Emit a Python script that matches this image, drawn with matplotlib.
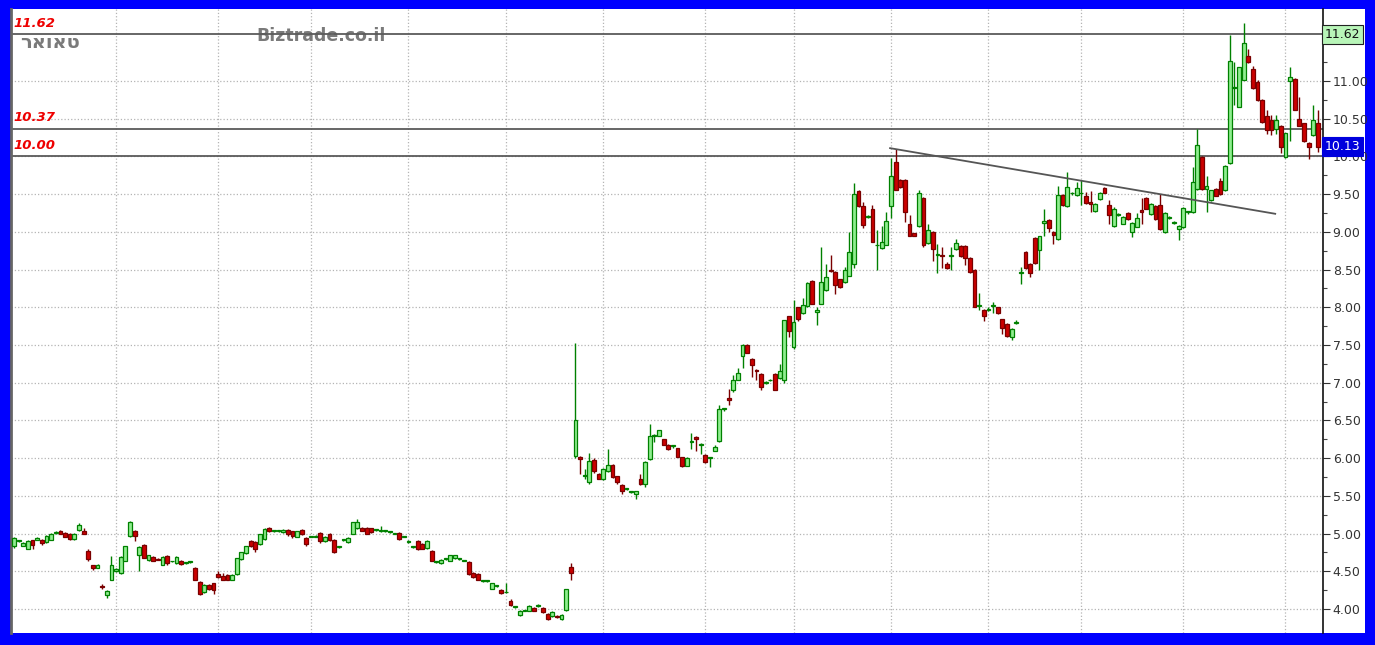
import matplotlib
matplotlib.use('Agg')
import matplotlib.pyplot as plt
import matplotlib.transforms as mtransforms
from matplotlib.patches import Rectangle

# daily OHLC (one value per trading day)
opens = [
    4.83, 4.90, 4.84, 4.80, 4.91, 4.92, 4.91, 4.89, 4.92, 5.01,
    5.04, 5.01, 5.00, 4.93, 5.05, 5.04, 4.77, 4.58, 4.55, 4.31,
    4.18, 4.39, 4.50, 4.48, 4.64, 4.97, 5.04, 4.71, 4.85, 4.65,
    4.69, 4.66, 4.59, 4.70, 4.63, 4.61, 4.64, 4.61, 4.62, 4.55,
    4.36, 4.22, 4.32, 4.34, 4.47, 4.44, 4.45, 4.39, 4.46, 4.66,
    4.74, 4.90, 4.89, 4.86, 4.93, 5.08, 5.03, 5.03, 5.02, 5.05,
    5.03, 4.96, 5.05, 4.94, 4.96, 4.96, 5.01, 4.90, 5.00, 4.92,
    4.82, 4.91, 4.89, 5.00, 5.07, 5.08, 5.08, 5.07, 5.05, 5.03,
    5.03, 5.02, 5.00, 5.01, 4.96, 4.89, 4.82, 4.90, 4.86, 4.81,
    4.77, 4.62, 4.61, 4.66, 4.64, 4.67, 4.66, 4.64, 4.62, 4.48,
    4.47, 4.37, 4.37, 4.27, 4.30, 4.25, 4.22, 4.11, 4.03, 3.92,
    3.98, 3.98, 4.02, 4.04, 4.02, 3.94, 3.91, 3.91, 3.87, 3.99, 4.56,
    6.03, 6.01, 5.77, 5.68, 5.98, 5.79, 5.73, 5.83, 5.91,
    5.76, 5.64, 5.59, 5.55, 5.53, 5.73, 5.66, 5.99, 6.30, 6.30,
    6.25, 6.18, 6.16, 6.13, 6.01, 5.90, 6.21, 6.28, 6.18, 6.04,
    6.00, 6.10, 6.23, 6.65, 6.80, 6.90, 7.04, 7.35, 7.50, 7.32,
    7.17, 7.11, 7.00, 7.03, 7.12, 7.06, 7.04, 7.88, 7.48, 8.00,
    7.92, 8.02, 8.35, 7.94, 8.05, 8.23, 8.50, 8.47, 8.37, 8.33,
    8.42, 8.58, 9.54, 9.34, 9.20, 9.30, 8.82, 8.78, 8.83, 9.34,
    9.93, 9.69, 9.69, 9.11, 8.98, 9.08, 9.45, 8.85, 9.00, 8.69,
    8.70, 8.58, 8.68, 8.77, 8.81, 8.81, 8.66, 8.50, 8.02, 7.97,
    7.97, 8.02, 8.00, 7.84, 7.78, 7.60, 7.79, 8.45, 8.73, 8.58,
    8.92, 8.76, 9.12, 9.16, 9.00, 8.90, 9.49, 9.34, 9.51, 9.49,
    9.51, 9.47, 9.40, 9.28, 9.43, 9.58, 9.35, 9.08, 9.23, 9.11,
    9.25, 9.00, 9.07, 9.29, 9.45, 9.24, 9.34, 9.36, 9.00, 9.19,
    9.12, 9.04, 9.06, 9.26, 9.26, 9.57, 9.99, 9.57, 9.42, 9.57,
    9.68, 9.55, 9.91, 10.91, 10.66, 11.02, 11.33, 11.16, 10.99, 10.75,
    10.53, 10.48, 10.37, 10.41, 9.99, 11.00, 11.03, 10.50, 10.44, 10.18,
    10.28, 10.44,
]
highs = [
    4.96, 4.92, 4.89, 4.91, 4.92, 4.95, 4.93, 4.98, 5.01, 5.03,
    5.05, 5.02, 5.01, 5.01, 5.14, 5.08, 4.80, 4.59, 4.60, 4.33,
    4.25, 4.70, 4.55, 4.70, 4.84, 5.17, 5.05, 4.83, 4.86, 4.72,
    4.70, 4.67, 4.70, 4.71, 4.64, 4.70, 4.65, 4.62, 4.64, 4.56,
    4.37, 4.33, 4.33, 4.35, 4.51, 4.48, 4.46, 4.46, 4.68, 4.76,
    4.84, 4.91, 4.90, 5.00, 5.07, 5.09, 5.04, 5.04, 5.06, 5.06,
    5.04, 5.04, 5.06, 4.95, 4.97, 4.98, 5.02, 4.97, 5.01, 4.93,
    4.83, 4.93, 4.95, 5.16, 5.19, 5.09, 5.09, 5.08, 5.06, 5.10,
    5.04, 5.03, 5.01, 5.02, 4.97, 4.91, 4.83, 4.91, 4.87, 4.91,
    4.78, 4.64, 4.66, 4.67, 4.72, 4.72, 4.67, 4.65, 4.63, 4.49,
    4.48, 4.38, 4.38, 4.35, 4.32, 4.26, 4.34, 4.13, 4.04, 3.99,
    3.99, 4.05, 4.03, 4.07, 4.03, 3.95, 3.97, 3.92, 3.93, 4.27, 4.61,
    7.53, 6.03, 5.86, 6.07, 6.00, 5.80, 5.87, 6.12, 5.92,
    5.77, 5.66, 5.61, 5.56, 5.57, 5.79, 5.96, 6.45, 6.32, 6.38,
    6.26, 6.19, 6.18, 6.14, 6.02, 6.01, 6.34, 6.30, 6.20, 6.05,
    6.01, 6.18, 6.70, 6.66, 6.92, 7.10, 7.20, 7.51, 7.51, 7.33,
    7.18, 7.13, 7.02, 7.05, 7.13, 7.25, 7.83, 7.89, 8.10, 8.01,
    8.12, 8.34, 8.36, 8.00, 8.80, 8.58, 8.69, 8.48, 8.38, 8.54,
    9.00, 9.65, 9.55, 9.40, 9.22, 9.35, 9.03, 9.08, 9.27, 9.98,
    10.10, 9.70, 9.70, 9.22, 8.99, 9.56, 9.46, 9.10, 9.01, 8.84,
    8.80, 8.60, 8.80, 8.91, 8.82, 8.82, 8.67, 8.51, 8.19, 7.98,
    8.00, 8.07, 8.01, 7.85, 7.79, 7.72, 7.83, 8.53, 8.74, 8.59,
    8.93, 8.95, 9.31, 9.17, 9.01, 9.61, 9.50, 9.79, 9.53, 9.66,
    9.69, 9.53, 9.54, 9.38, 9.53, 9.60, 9.42, 9.33, 9.25, 9.21,
    9.26, 9.13, 9.25, 9.45, 9.46, 9.38, 9.35, 9.50, 9.26, 9.21,
    9.14, 9.09, 9.33, 9.28, 9.86, 10.37, 10.00, 9.74, 9.56, 9.58,
    9.72, 9.89, 11.61, 11.25, 11.19, 11.77, 11.42, 11.20, 11.02, 10.76,
    10.62, 10.55, 10.55, 10.42, 10.31, 11.19, 11.04, 10.79, 10.45, 10.19,
    10.68, 10.62,
]
lows = [
    4.81, 4.89, 4.83, 4.79, 4.80, 4.91, 4.85, 4.88, 4.91, 5.00,
    4.99, 4.95, 4.92, 4.92, 5.04, 4.99, 4.63, 4.52, 4.54, 4.27,
    4.15, 4.38, 4.49, 4.47, 4.63, 4.96, 4.90, 4.50, 4.67, 4.64,
    4.63, 4.65, 4.58, 4.58, 4.62, 4.60, 4.59, 4.60, 4.61, 4.38,
    4.19, 4.21, 4.25, 4.20, 4.41, 4.38, 4.38, 4.38, 4.45, 4.65,
    4.73, 4.82, 4.76, 4.85, 4.92, 5.02, 5.02, 5.02, 5.01, 4.97,
    4.94, 4.95, 4.98, 4.84, 4.95, 4.95, 4.88, 4.89, 4.90, 4.74,
    4.81, 4.90, 4.88, 4.99, 5.06, 5.03, 4.99, 5.01, 5.04, 5.02,
    5.02, 5.01, 4.99, 4.92, 4.95, 4.88, 4.81, 4.78, 4.79, 4.80,
    4.63, 4.61, 4.60, 4.65, 4.63, 4.66, 4.65, 4.63, 4.45, 4.41,
    4.38, 4.36, 4.36, 4.26, 4.29, 4.20, 4.21, 4.04, 4.02, 3.91,
    3.97, 3.97, 3.97, 4.03, 3.95, 3.86, 3.90, 3.88, 3.86, 3.98, 4.39,
    6.00, 5.79, 5.72, 5.66, 5.80, 5.72, 5.71, 5.82, 5.74,
    5.66, 5.52, 5.58, 5.54, 5.46, 5.65, 5.62, 5.98, 6.22, 6.29,
    6.17, 6.11, 6.14, 6.01, 5.88, 5.89, 6.12, 6.09, 6.05, 5.94,
    5.88, 6.09, 6.22, 6.62, 6.70, 6.88, 7.03, 7.20, 7.39, 7.08,
    7.04, 6.90, 6.98, 7.02, 6.90, 7.05, 7.00, 7.61, 7.45, 7.82,
    7.91, 8.01, 8.04, 7.77, 8.04, 8.22, 8.47, 8.18, 8.26, 8.32,
    8.41, 8.52, 9.33, 9.05, 9.18, 8.86, 8.50, 8.77, 8.82, 9.18,
    9.55, 9.58, 9.13, 8.94, 8.94, 9.07, 8.80, 8.84, 8.62, 8.46,
    8.52, 8.51, 8.50, 8.76, 8.67, 8.56, 8.46, 8.00, 7.97, 7.82,
    7.95, 7.92, 7.91, 7.65, 7.61, 7.56, 7.78, 8.31, 8.51, 8.40,
    8.58, 8.50, 8.94, 9.00, 8.84, 8.89, 9.34, 9.33, 9.49, 9.48,
    9.36, 9.37, 9.26, 9.27, 9.42, 9.51, 9.10, 9.07, 9.21, 9.10,
    9.16, 8.93, 9.06, 9.10, 9.30, 9.23, 9.16, 9.03, 8.99, 9.17,
    9.10, 8.89, 9.05, 9.24, 9.25, 9.56, 9.56, 9.26, 9.41, 9.47,
    9.49, 9.54, 9.90, 10.68, 10.65, 11.01, 11.24, 10.90, 10.74, 10.45,
    10.30, 10.28, 10.30, 10.05, 9.98, 10.20, 10.61, 10.40, 10.19, 9.96,
    10.27, 10.06,
]
closes = [
    4.94, 4.91, 4.88, 4.90, 4.85, 4.94, 4.88, 4.97, 5.00, 5.02,
    5.00, 4.96, 4.93, 5.00, 5.12, 5.00, 4.66, 4.54, 4.58, 4.29,
    4.24, 4.58, 4.53, 4.69, 4.83, 5.16, 4.97, 4.82, 4.68, 4.71,
    4.64, 4.65, 4.69, 4.61, 4.63, 4.69, 4.60, 4.61, 4.62, 4.39,
    4.20, 4.32, 4.26, 4.25, 4.42, 4.39, 4.39, 4.45, 4.67, 4.75,
    4.83, 4.83, 4.79, 4.99, 5.06, 5.03, 5.03, 5.03, 5.05, 4.99,
    4.97, 5.03, 4.99, 4.86, 4.96, 4.96, 4.90, 4.96, 4.91, 4.75,
    4.82, 4.92, 4.94, 5.15, 5.16, 5.04, 5.00, 5.02, 5.05, 5.03,
    5.03, 5.02, 5.00, 4.93, 4.96, 4.90, 4.82, 4.79, 4.80, 4.90,
    4.64, 4.63, 4.65, 4.66, 4.71, 4.71, 4.66, 4.64, 4.46, 4.42,
    4.39, 4.37, 4.37, 4.34, 4.31, 4.21, 4.22, 4.05, 4.03, 3.98,
    3.98, 4.04, 3.98, 4.04, 3.96, 3.87, 3.96, 3.89, 3.92, 4.26, 4.48,
    6.51, 5.99, 5.77, 5.96, 5.83, 5.73, 5.86, 5.91, 5.75,
    5.68, 5.56, 5.59, 5.55, 5.56, 5.66, 5.95, 6.30, 6.30, 6.37,
    6.18, 6.12, 6.16, 6.02, 5.89, 6.00, 6.21, 6.26, 6.18, 5.95,
    6.00, 6.15, 6.65, 6.65, 6.77, 7.03, 7.13, 7.50, 7.40, 7.24,
    7.15, 6.94, 7.00, 7.04, 6.91, 7.15, 7.83, 7.68, 7.80, 7.85,
    8.03, 8.32, 8.05, 7.96, 8.33, 8.40, 8.48, 8.30, 8.27, 8.50,
    8.73, 9.50, 9.34, 9.09, 9.20, 8.87, 8.82, 8.86, 9.15, 9.74,
    9.56, 9.60, 9.27, 8.95, 8.95, 9.51, 8.83, 9.03, 8.77, 8.69,
    8.68, 8.52, 8.70, 8.85, 8.68, 8.66, 8.47, 8.01, 8.02, 7.88,
    7.97, 8.02, 7.92, 7.72, 7.62, 7.71, 7.81, 8.46, 8.52, 8.45,
    8.59, 8.94, 9.15, 9.05, 8.96, 9.49, 9.35, 9.59, 9.51, 9.58,
    9.51, 9.38, 9.37, 9.37, 9.52, 9.52, 9.23, 9.30, 9.23, 9.20,
    9.17, 9.12, 9.18, 9.27, 9.31, 9.37, 9.17, 9.04, 9.25, 9.19,
    9.12, 9.08, 9.32, 9.26, 9.66, 10.15, 9.57, 9.61, 9.55, 9.48,
    9.50, 9.88, 11.27, 10.91, 11.18, 11.51, 11.25, 10.91, 10.75, 10.46,
    10.35, 10.35, 10.48, 10.12, 10.31, 11.05, 10.62, 10.41, 10.20, 10.12,
    10.48, 10.13,
]

# first trading day of each month (index into the series)
month_starts = [22, 44, 64, 85, 106, 127, 149, 168, 189, 210, 230, 252, 274]
price_ticks = [4.0, 4.5, 5.0, 5.5, 6.0, 6.5, 7.0, 7.5, 8.0, 8.5, 9.0, 9.5, 10.0, 10.5, 11.0]

# support / resistance levels and the drawn trendline
levels = [11.62, 10.37, 10.00]
level_labels = ['11.62', '10.37', '10.00']
trend_x = [188.8, 271.8]
trend_y = [10.11, 9.24]
last_price = closes[-1]
high_price = 11.62

fig = plt.figure(figsize=(13.75, 6.45), dpi=100, facecolor='#0000ff')
# white strip behind the price scale
fig.patches.append(Rectangle((1323 / 1375, 12 / 645), 42 / 1375, 624 / 645,
                             transform=fig.transFigure, facecolor='white',
                             edgecolor='none', zorder=-5))
ax = fig.add_axes([11 / 1375, 12 / 645, 1312 / 1375, 624 / 645])
ax.set_zorder(2)
ax.set_facecolor('white')

n = len(closes)
xs = list(range(n))
for i in xs:
    o, h, l, c = opens[i], highs[i], lows[i], closes[i]
    up = c >= o
    edge = '#008000' if up else '#7a0000'
    fill = '#90ee90' if up else '#cc0000'
    ax.vlines(i, l, h, color=edge, linewidth=1, zorder=3)
    body = max(abs(c - o), 0.012)
    ax.bar(i, body, bottom=min(o, c), width=0.82, color=fill, edgecolor=edge,
           linewidth=0.9, zorder=4)

for lv in levels:
    ax.axhline(lv, color='#5a5a5a', linewidth=1.3, zorder=2)
ax.plot(trend_x, trend_y, color='#555555', linewidth=1.3, zorder=5)

ax.set_xlim(-0.65, 282.1)
ax.set_ylim(3.682, 11.955)
ax.set_xticks(month_starts)
ax.set_xticklabels([])
ax.tick_params(axis='x', length=0)
ax.yaxis.tick_right()
ax.set_yticks(price_ticks)
ax.set_yticklabels([f'{v:.2f}' for v in price_ticks])
ax.set_yticks([v + 0.25 for v in price_ticks], minor=True)
ax.tick_params(axis='y', which='major', length=5, width=0.8, pad=2,
               labelsize=9, labelcolor='#333333', colors='#333333')
ax.tick_params(axis='y', which='minor', length=3, width=0.8, colors='#444444')
ax.grid(True, which='major', color='#b4b4b4', linestyle=':', linewidth=0.9)
ax.set_axisbelow(True)

for side in ['top', 'bottom']:
    ax.spines[side].set_visible(False)
ax.spines['right'].set_color('#111111')
ax.spines['right'].set_linewidth(1.2)
ax.spines['left'].set_color('#666666')
ax.spines['left'].set_linewidth(2)

# red level labels at the left edge
trans = mtransforms.blended_transform_factory(ax.transAxes, ax.transData)
for lv, lab in zip(levels, level_labels):
    ax.text(0.002, lv + 0.06, lab, transform=trans, color='#ee0000',
            fontsize=9.5, fontstyle='italic', fontweight='bold',
            va='bottom', ha='left', zorder=6)

# price boxes on the scale
ax.text(1.0015, high_price, f'{high_price:.2f}', transform=trans, fontsize=9,
        color='#111111', va='center', ha='left', clip_on=False, zorder=7,
        bbox=dict(boxstyle='square,pad=0.22', facecolor='#b8f5b8',
                  edgecolor='#222222', linewidth=0.8))
ax.text(1.0015, last_price, f'{last_price:.2f}', transform=trans, fontsize=9,
        color='white', va='center', ha='left', clip_on=False, zorder=7,
        bbox=dict(boxstyle='square,pad=0.22', facecolor='#0000dd',
                  edgecolor='#0000dd', linewidth=0.8))

# watermarks (Hebrew name stored in visual order, matplotlib has no bidi)
ax.text(0.007, 0.947, 'טאואר'[::-1], transform=ax.transAxes, fontsize=14,
        fontweight='bold', color='#7a7a7a', va='center', ha='left', zorder=1,
        family=['DejaVu Sans'])
ax.text(0.187, 0.956, 'Biztrade.co.il', transform=ax.transAxes, fontsize=12.5,
        fontweight='bold', color='#7a7a7a', va='center', ha='left', zorder=1)

fig.savefig('out.png', dpi=100, facecolor=fig.get_facecolor())
